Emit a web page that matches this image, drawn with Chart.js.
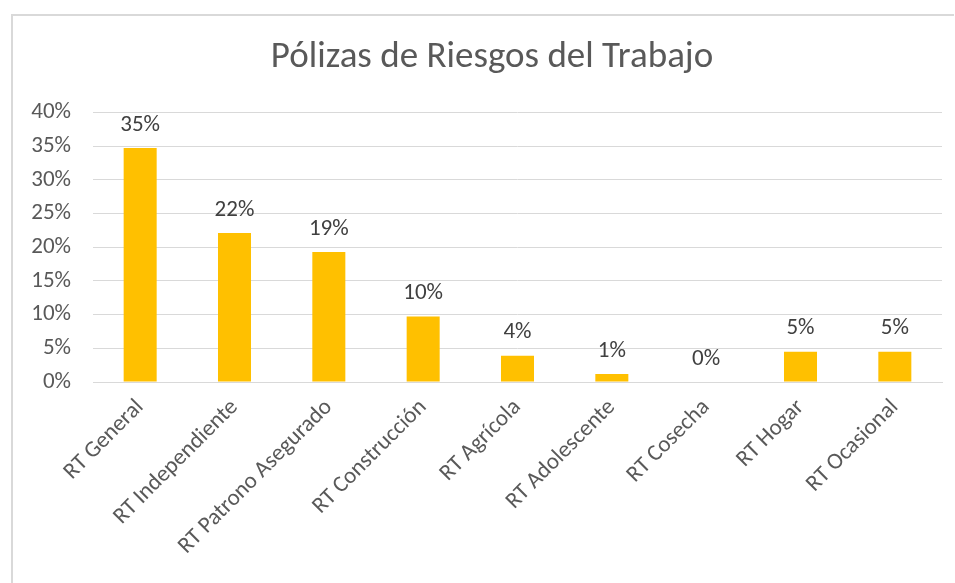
<!DOCTYPE html>
<html>
<head>
<meta charset="utf-8">
<script src="https://cdn.jsdelivr.net/npm/chart.js@4/dist/chart.umd.min.js"></script>
<style>
  html, body { margin: 0; padding: 0; background: #ffffff; }
  #wrap { position: relative; width: 955px; height: 583px; }
  #c { position: absolute; left: 0; top: 0; }
  .bt { position: absolute; left: 11px; top: 14px; width: 943px; height: 2px; background: #d9d9d9; }
  .bl { position: absolute; left: 11px; top: 14px; width: 2px; height: 569px; background: #d9d9d9; }
</style>
</head>
<body>
<div id="wrap">
  <canvas id="c" width="955" height="583"></canvas>
  <div class="bt"></div>
  <div class="bl"></div>
</div>
<script>
const chartTitle = 'Pólizas de Riesgos del Trabajo';
const categories = ['RT General', 'RT Independiente', 'RT Patrono Asegurado', 'RT Construcción', 'RT Agrícola', 'RT Adolescente', 'RT Cosecha', 'RT Hogar', 'RT Ocasional'];
const shares = [34.7, 22.1, 19.3, 9.7, 3.9, 1.2, 0.0, 4.5, 4.5];
const yTicks = [0, 5, 10, 15, 20, 25, 30, 35, 40];

const FONT = "Carlito, 'Open Sans', sans-serif";

const labelPlugin = {
  id: 'barLabels',
  afterDatasetsDraw(chart) {
    const ctx = chart.ctx;
    const meta = chart.getDatasetMeta(0);
    ctx.save();
    ctx.font = '23px ' + FONT;
    ctx.fillStyle = '#404040';
    ctx.textAlign = 'center';
    ctx.textBaseline = 'middle';
    meta.data.forEach((bar, i) => {
      const v = chart.data.datasets[0].data[i];
      ctx.fillText(Math.round(v) + '%', bar.x, bar.y - 23);
    });
    ctx.restore();
  }
};

// widen the y-axis label clip region to the canvas edge (labels stay right-aligned)
const unclipYLabels = {
  id: 'unclipYLabels',
  afterLayout(chart) { chart.scales.y.left = 0; }
};

new Chart(document.getElementById('c'), {
  type: 'bar',
  data: {
    labels: categories,
    datasets: [{
      data: shares,
      backgroundColor: '#ffc000',
      borderWidth: 0,
      categoryPercentage: 1.0,
      barPercentage: 0.35
    }]
  },
  options: {
    responsive: false,
    animation: false,
    layout: { padding: { left: 42, right: 13, top: 0, bottom: 0 } },
    plugins: {
      legend: { display: false },
      tooltip: { enabled: false },
      title: {
        display: true,
        text: chartTitle,
        color: '#595959',
        font: { family: FONT, size: 37, weight: 'normal' },
        padding: { top: 36, bottom: 32 }
      }
    },
    scales: {
      x: {
        grid: { display: false, drawTicks: false },
        border: { display: true, color: '#d9d9d9', width: 1 },
        ticks: {
          color: '#595959',
          font: { family: FONT, size: 23 },
          minRotation: 45,
          maxRotation: 45,
          autoSkip: false,
          padding: 12
        },
        afterFit(scale) { scale.height = 201; }
      },
      y: {
        min: 0,
        max: 40,
        afterBuildTicks(scale) { scale.ticks = yTicks.map(v => ({ value: v })); },
        grid: { color: '#d9d9d9', lineWidth: 1, drawTicks: false },
        border: { display: false },
        ticks: {
          color: '#595959',
          font: { family: FONT, size: 23 },
          padding: 22,
          callback: v => v + '%'
        },
        afterFit(scale) { scale.width = 51; }
      }
    }
  },
  plugins: [labelPlugin, unclipYLabels]
});
</script>
</body>
</html>
